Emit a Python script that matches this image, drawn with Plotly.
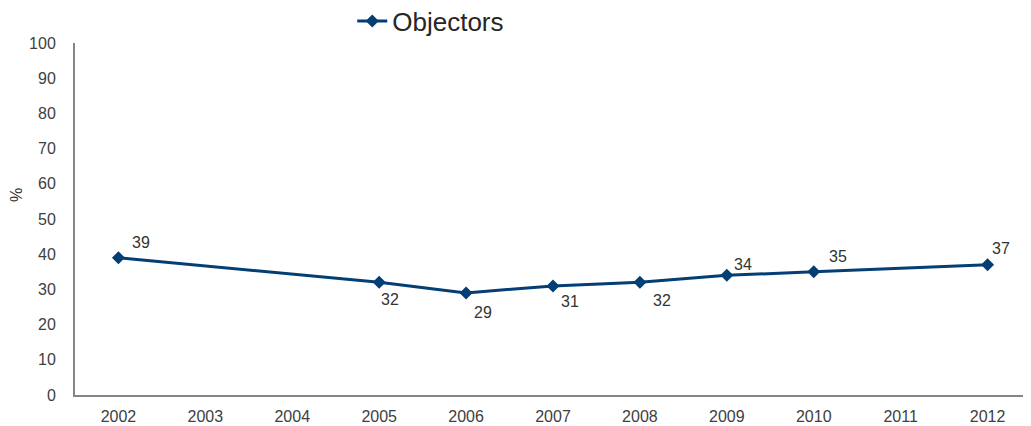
import plotly.graph_objects as go

years = ["2002", "2003", "2004", "2005", "2006", "2007", "2008", "2009", "2010", "2011", "2012"]
objectors = [39, None, None, 32, 29, 31, 32, 34, 35, None, 37]
y_ticks = [0, 10, 20, 30, 40, 50, 60, 70, 80, 90, 100]

# label offsets (px) for data labels
label_dx = [23, 0, 0, 11, 17, 17, 22, 16, 24, 0, 13]
label_dy = [15, 0, 0, -17, -20, -16, -18, 11, 15, 0, 16]

color = "#033e74"
fig = go.Figure()
fig.add_trace(go.Scatter(
    x=years, y=objectors, name="Objectors", mode="lines+markers",
    connectgaps=True,
    line=dict(color=color, width=3),
    marker=dict(symbol="diamond", size=10, color=color),
))

for i, (v, dx, dy) in enumerate(zip(objectors, label_dx, label_dy)):
    if v is None:
        continue
    fig.add_annotation(x=i, y=v, text=str(v), showarrow=False,
                       xshift=dx, yshift=dy,
                       font=dict(family="Liberation Sans, Arial", size=16, color="#333333"))

fig.add_annotation(xref="paper", yref="paper", x=-0.061, y=0.567, text="%", textangle=-90,
                   showarrow=False, xanchor="center", yanchor="middle",
                   font=dict(family="Liberation Sans, Arial", size=16, color="#333333"))

fig.update_layout(
    width=1023, height=418,
    margin=dict(l=67, r=0, t=35, b=31, autoexpand=False),
    plot_bgcolor="white", paper_bgcolor="white",
    font=dict(family="Liberation Sans, Arial", size=16, color="#404040"),
    showlegend=True,
    legend=dict(orientation="h", x=0.29, y=1.0625, xanchor="left", yanchor="middle",
                itemwidth=30,
                font=dict(size=26, color="#262626"), bgcolor="rgba(0,0,0,0)"),
    xaxis=dict(type="category", categoryorder="array", categoryarray=years,
               range=[-0.5, 10.5], showline=True, linecolor="#868686", linewidth=2,
               showgrid=False, zeroline=False, ticks="", ticklabelstandoff=6,
               tickfont=dict(size=16, color="#404040")),
    yaxis=dict(range=[0, 100], tickvals=y_ticks, showline=True, linecolor="#868686",
               linewidth=2, showgrid=False, zeroline=False, ticks="",
               ticklabelstandoff=14, tickfont=dict(size=16, color="#404040")),
)

fig.write_html("out.html")
